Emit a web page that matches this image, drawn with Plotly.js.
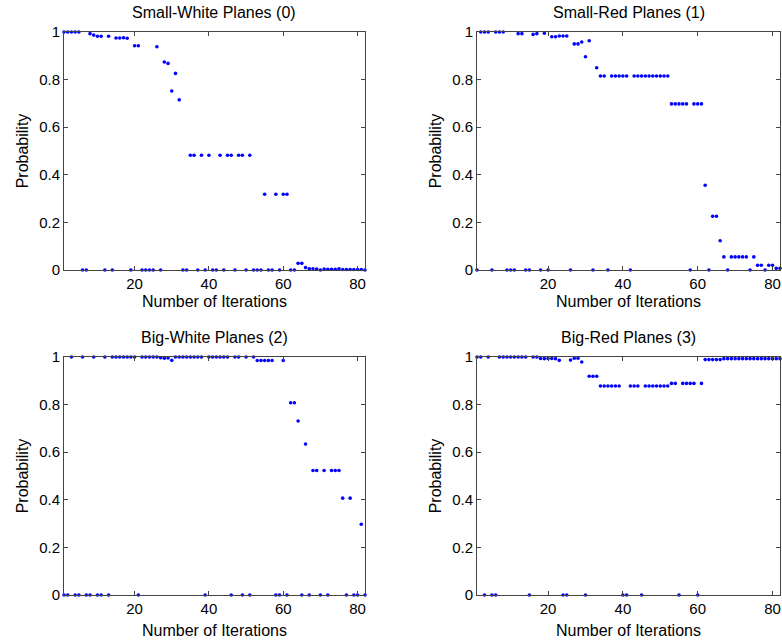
<!DOCTYPE html>
<html>
<head>
<meta charset="utf-8">
<script src="https://cdn.plot.ly/plotly-3.0.1.min.js"></script>
<style>html,body{margin:0;padding:0;background:#fff;}#chart{width:782px;height:643px;}</style>
</head>
<body>
<div id="chart"></div>
<script>
const iterations = [1,2,3,4,5,6,7,8,9,10,11,12,13,14,15,16,17,18,19,20,21,22,23,24,25,26,27,28,29,30,31,32,33,34,35,36,37,38,39,40,41,42,43,44,45,46,47,48,49,50,51,52,53,54,55,56,57,58,59,60,61,62,63,64,65,66,67,68,69,70,71,72,73,74,75,76,77,78,79,80,81,82];

const smallWhite = [1,1,1,1,1,0,0,0.993,0.987,0.982,0.982,0,0.982,0,0.975,0.975,0.976,0.974,0,0.942,
  0.942,0,0,0,0,0.938,0,0.874,0.868,0.752,0.826,0.715,0,0,0.482,0.482,0,0.482,0,0.482,
  0,0,0.482,0,0.482,0.482,0,0.482,0.482,0,0.482,0,0,0,0.318,0,0,0.318,0,0.318,
  0.318,0,0,0.028,0.028,0.01,0.005,0.005,0.004,0,0.004,0.003,0.003,0.003,0.005,0.002,0.002,0.002,0.002,0.002,
  0.002,0];

const smallRed = [0,1,1,1,0,1,1,1,0,0,0,0.993,0.993,0,0,0.99,0.993,0,0.995,0,
  0.98,0.98,0.983,0.983,0.983,0,0.95,0.95,0.958,0.896,0.963,0,0.85,0.815,0.815,0,0.815,0.815,0.815,0.815,
  0.815,0,0.815,0.815,0.815,0.815,0.815,0.815,0.815,0.815,0.815,0.815,0.698,0.698,0.698,0.698,0.698,0,0.698,0.698,
  0.698,0.356,0,0.226,0.226,0.123,0.055,0,0.055,0.055,0.055,0.055,0.055,0,0.055,0.02,0.02,0,0.02,0.02,
  0.007,0.007];

const bigWhite = [0,0,1,0,0,1,0,0,1,0,0,1,0,1,1,1,1,1,1,1,
  0,1,1,1,1,1,0.997,0.995,0.996,0.986,1,1,1,1,1,1,1,1,0,1,
  1,1,1,1,1,0,1,1,0,1,0,1,0.985,0.985,0.985,0.985,0.985,0,0,0.985,
  0,0.808,0.808,0.731,0,0.634,0,0.523,0.523,0,0.523,0,0.523,0.523,0.523,0.407,0,0.407,0,0,
  0.297,0];

const bigRed = [1,1,0,1,0,0,1,1,1,1,1,1,1,1,0,1,1,0.994,0.993,0.994,
  0.994,0.993,0.986,0,0,0.987,0.995,0.995,0.979,0,0.919,0.919,0.919,0.878,0.878,0.878,0.878,0.878,0.878,0,
  0,0.878,0.878,0.878,0,0.878,0.878,0.878,0.878,0.878,0.878,0.878,0.889,0.889,0,0.889,0.889,0.889,0.889,0,
  0.889,0.989,0.989,0.989,0.989,0.989,0.993,0.993,0.993,0.993,0.993,0.993,0.993,0.993,0.993,0.993,0.993,0.993,0.993,0.993,
  0.993,0.993];

const titles = ['Small-White Planes (0)','Small-Red Planes (1)','Big-White Planes (2)','Big-Red Planes (3)'];
const xTitle = 'Number of Iterations';
const yTitle = 'Probability';
const series = [smallWhite, smallRed, bigWhite, bigRed];
const xTicks = [20,40,60,80];
const yTicks = [0,0.2,0.4,0.6,0.8,1];
const yTickText = ['0','0.2','0.4','0.6','0.8','1'];

const W = 782, H = 643;
const FONT = 'Liberation Sans, Arial, sans-serif';
// axes boxes in pixels [left, right, top, bottom]
const boxes = [[64,365,32,270],[477,780,32,270],[64,365,357,595],[477,780,357,595]];
// x-title centre y (px) per panel
const xTitleY = [301, 301, 630, 630];

const traces = series.map((s,i)=>({
  x: iterations, y: s, type:'scatter', mode:'markers',
  xaxis: 'x'+(i===0?'':i+1), yaxis: 'y'+(i===0?'':i+1),
  marker:{color:'#0000ff', size:3.6, symbol:'circle'},
  cliponaxis:false, hoverinfo:'skip'
}));

const layout = {
  width:W, height:H, margin:{l:0,r:0,t:0,b:0},
  paper_bgcolor:'#fff', plot_bgcolor:'#fff', showlegend:false,
  font:{family:FONT, size:15, color:'#000'},
  annotations:[]
};

boxes.forEach((b,i)=>{
  const sx = i===0?'':String(i+1);
  const common = {
    showgrid:false, zeroline:false, showline:true, linecolor:'#444', linewidth:1,
    mirror:'ticks', ticks:'inside', ticklen:4, tickcolor:'#444',
    tickfont:{family:FONT,size:15,color:'#000'}, fixedrange:true
  };
  layout['xaxis'+sx] = Object.assign({}, common, {
    domain:[b[0]/W, b[1]/W], anchor:'y'+sx, range:[1,82],
    tickvals:xTicks, ticktext:xTicks.map(String)
  });
  layout['yaxis'+sx] = Object.assign({}, common, {
    domain:[1-b[3]/H, 1-b[2]/H], anchor:'x'+sx, range:[0,1],
    tickvals:yTicks, ticktext:yTickText,
    title:{text:yTitle, font:{family:FONT,size:16,color:'#000'}, standoff:6}
  });
  layout.annotations.push({
    text:titles[i], xref:'paper', yref:'paper', x:(b[0]+b[1])/2/W, y:1-(b[2]-20)/H,
    xanchor:'center', yanchor:'middle', showarrow:false, font:{family:FONT,size:16,color:'#000'}
  });
  layout.annotations.push({
    text:xTitle, xref:'paper', yref:'paper', x:(b[0]+b[1])/2/W, y:1-xTitleY[i]/H,
    xanchor:'center', yanchor:'middle', showarrow:false, font:{family:FONT,size:16,color:'#000'}
  });
});

Plotly.newPlot('chart', traces, layout, {staticPlot:true, displayModeBar:false});
</script>
</body>
</html>
